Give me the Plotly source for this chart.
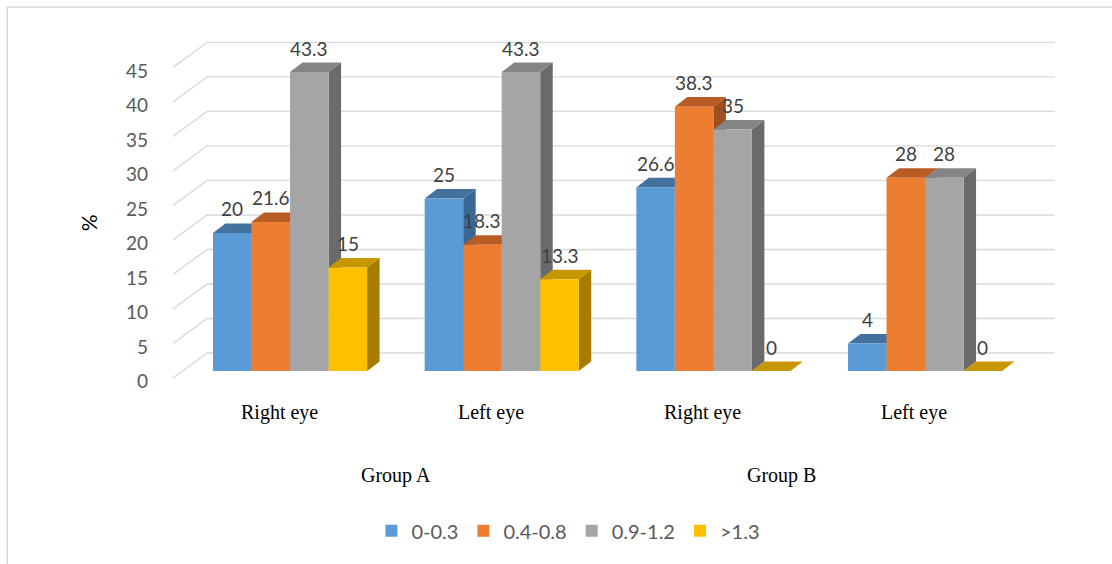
import plotly.graph_objects as go

# ---------------- data ----------------
categories = ["Right eye", "Left eye", "Right eye", "Left eye"]
groups = ["Group A", "Group B"]
series_names = ["0-0.3", "0.4-0.8", "0.9-1.2", ">1.3"]
s_03 = [20, 25, 26.6, 4]
s_48 = [21.6, 18.3, 38.3, 28]
s_912 = [43.3, 43.3, 35, 28]
s_13 = [15, 13.3, 0, 0]
y_ticks = [0, 5, 10, 15, 20, 25, 30, 35, 40, 45]

# ---------------- style ----------------
front_cols = ["#5B9BD5", "#ED7D31", "#A5A5A5", "#FFC000"]
top_cols = ["#44729F", "#B85C26", "#858585", "#C69700"]
side_cols = ["#3A6794", "#9E4F1E", "#6A6A6A", "#A67C00"]
series_vals = [s_03, s_48, s_912, s_13]

x_range = [-0.553, 3.614]
y_range = [-1.3, 49.4]
group_width = 0.728
bw = group_width / 4
dx = 0.059      # depth offset in x units
dy = 1.38       # depth offset in y units
back_dx, back_dy = 0.161, 2.61
front_dy = -1.01
grid_col = "#D9D9D9"

cat_x = list(range(len(categories)))

fig = go.Figure()
for name, vals, col in zip(series_names, series_vals, front_cols):
    fig.add_trace(go.Bar(
        x=cat_x, y=vals, name=name, marker=dict(color=col, line=dict(width=0)),
        hoverinfo="skip"))

shapes = []
# back-wall gridlines with diagonal floor-side segments
x0 = x_range[0]
for v in y_ticks:
    path = (f"M{x0},{v + front_dy} L{x0 + back_dx},{v + back_dy} "
            f"L{x_range[1]},{v + back_dy}")
    shapes.append(dict(type="path", path=path, xref="x", yref="y",
                       line=dict(color=grid_col, width=1.4), layer="below"))

# 3D sides and tops, drawn bar by bar left-to-right
for c in cat_x:
    for s, vals in enumerate(series_vals):
        h = vals[c]
        L = c + (s - 2) * bw
        R = L + bw
        side = (f"M{R},0 L{R + dx},{dy} L{R + dx},{h + dy} L{R},{h} Z")
        top = (f"M{L},{h} L{R},{h} L{R + dx},{h + dy} L{L + dx},{h + dy} Z")
        shapes.append(dict(type="path", path=side, xref="x", yref="y",
                           fillcolor=side_cols[s], line=dict(width=0), layer="below"))
        shapes.append(dict(type="path", path=top, xref="x", yref="y",
                           fillcolor=top_cols[s], line=dict(width=0), layer="below"))

# outer chart border (partially visible)
shapes.append(dict(type="rect", xref="paper", yref="paper",
                   x0=-0.188, x1=1.3, y0=-1.2, y1=1.0657,
                   line=dict(color=grid_col, width=1.5), fillcolor="rgba(0,0,0,0)",
                   layer="below"))

annotations = []
# data labels
for c in cat_x:
    for s, vals in enumerate(series_vals):
        xc = c + (s - 1.5) * bw
        annotations.append(dict(
            x=xc, y=vals[c], xref="x", yref="y", text=f"{vals[c]:g}",
            showarrow=False, yshift=24, xanchor="center",
            font=dict(family="Lato", size=19, color="#404040")))

# y tick labels (placed in paper coords so the lowest is not clipped)
span = y_range[1] - y_range[0]
for v in y_ticks:
    annotations.append(dict(
        x=-0.026, xref="paper", y=(v - 1.4 - y_range[0]) / span, yref="paper",
        text=str(v), xanchor="right", yanchor="middle", showarrow=False,
        font=dict(family="Lato", size=19, color="#595959")))

# category labels
for c, lab in zip(cat_x, categories):
    annotations.append(dict(
        x=c - 0.052, xref="x", y=-0.094, yref="paper", text=lab,
        showarrow=False, xanchor="center", yanchor="middle",
        font=dict(family="Liberation Serif", size=20, color="#000000")))

group_pos = [0.5, 2.32]
for gx, g in zip(group_pos, groups):
    annotations.append(dict(
        x=gx, xref="x", y=-0.274, yref="paper", text=g,
        showarrow=False, xanchor="center", yanchor="middle",
        font=dict(family="Liberation Serif", size=20, color="#000000")))

# y axis title
annotations.append(dict(
    x=-0.0964, xref="paper", y=0.451, yref="paper", text="%",
    textangle=-90, showarrow=False, xanchor="center", yanchor="middle",
    font=dict(family="Lato", size=21, color="#000000")))

fig.update_layout(
    width=1112, height=564,
    margin=dict(l=173, r=57, t=30, b=184),
    paper_bgcolor="white", plot_bgcolor="white",
    barmode="group", bargap=1 - group_width, bargroupgap=0,
    xaxis=dict(range=x_range, showgrid=False, zeroline=False,
               showticklabels=False, showline=False, fixedrange=True),
    yaxis=dict(range=y_range, showgrid=False, zeroline=False,
               showticklabels=False, showline=False, fixedrange=True),
    shapes=shapes, annotations=annotations,
    showlegend=True,
    legend=dict(orientation="h", x=0.225, xanchor="left", y=-0.431,
                yanchor="middle", font=dict(family="Lato", size=20, color="#595959"),
                itemclick=False, itemdoubleclick=False, itemwidth=30,
                tracegroupgap=0),
)

fig.write_html("out.html")
